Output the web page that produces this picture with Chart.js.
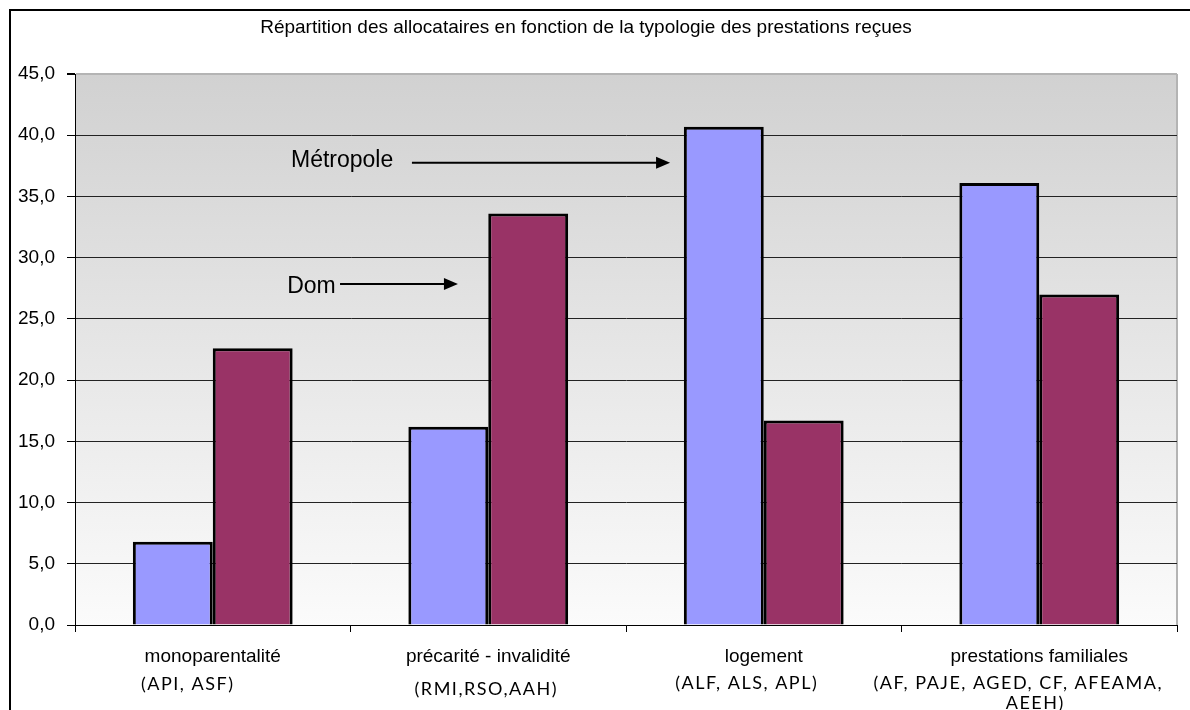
<!DOCTYPE html>
<html>
<head>
<meta charset="utf-8">
<script src="https://cdn.jsdelivr.net/npm/chart.js@4/dist/chart.umd.min.js"></script>
<style>
  html, body { margin: 0; padding: 0; background: #fff; overflow: hidden; }
  #wrap { position: relative; width: 1190px; height: 710px; }
  #frame { position: absolute; left: 9px; top: 9px; width: 1200px; height: 720px; border: 2px solid #000; box-sizing: border-box; pointer-events: none; }
</style>
</head>
<body>
<div id="wrap">
  <canvas id="chart" width="1190" height="710"></canvas>
  <div id="frame"></div>
</div>
<script>
const title = 'Répartition des allocataires en fonction de la typologie des prestations reçues';
const categories = ['monoparentalité', 'précarité - invalidité', 'logement', 'prestations familiales'];
const categoryCodes = [
  ['(API, ASF)'],
  ['(RMI,RSO,AAH)'],
  ['(ALF, ALS, APL)'],
  ['(AF, PAJE, AGED, CF, AFEAMA,', 'AEEH)']
];
const metropole = [6.8, 16.2, 40.7, 36.1];
const dom = [22.6, 33.6, 16.7, 27.0];
const yTicks = [0, 5, 10, 15, 20, 25, 30, 35, 40, 45];

// annotations, in data units (category index, value)
const notes = [
  { text: 'Métropole', x: 0.284, y: 37.95, from: 0.723, to: 1.66, ay: 37.76 },
  { text: 'Dom', x: 0.27, y: 27.65, from: 0.462, to: 0.89, ay: 27.85 }
];

// small nudges of the second label line (px)
const codeShift = [-25, -2, -17, -21];
const codeY = [684, 689, 683, 683];

const labelFont = '"Liberation Sans", Arial, sans-serif';

const framePlugin = {
  id: 'frame',
  beforeDraw(chart) {
    const { ctx, chartArea: a } = chart;
    const g = ctx.createLinearGradient(0, a.top, 0, a.bottom);
    g.addColorStop(0, '#d1d1d1');
    g.addColorStop(1, '#fbfbfb');
    ctx.save();
    ctx.fillStyle = g;
    ctx.fillRect(a.left, a.top, a.right - a.left, a.bottom - a.top);
    ctx.strokeStyle = '#b4b4b4';
    ctx.lineWidth = 2;
    ctx.beginPath();
    ctx.moveTo(a.right, a.top);
    ctx.lineTo(a.right, a.bottom);
    ctx.stroke();
    ctx.fillStyle = '#000';
    ctx.font = '19px ' + labelFont;
    ctx.textAlign = 'center';
    ctx.textBaseline = 'middle';
    ctx.fillText(title, 586, 28);
    ctx.restore();
  },
  afterDraw(chart) {
    const { ctx } = chart;
    const xs = chart.scales.x, ys = chart.scales.y;
    ctx.save();
    ctx.fillStyle = '#000';
    ctx.textAlign = 'center';
    ctx.textBaseline = 'middle';
    categories.forEach((c, i) => {
      const cx = xs.getPixelForValue(i);
      ctx.font = '19px ' + labelFont;
      ctx.fillText(c, cx, 657);
      ctx.font = '18px Lato, "Open Sans", sans-serif';
      ctx.letterSpacing = '1.5px';
      categoryCodes[i].forEach((line, k) => {
        const dx = k === 0 ? codeShift[i] : -4;
        ctx.fillText(line, cx + dx, codeY[i] + k * 20);
      });
      ctx.letterSpacing = '0px';
    });

    const toX = v => xs.left + (v + 0.5) * (xs.right - xs.left) / categories.length;
    notes.forEach(n => {
      ctx.font = '23px ' + labelFont;
      ctx.textAlign = 'left';
      ctx.fillText(n.text, toX(n.x), ys.getPixelForValue(n.y));
      const y = ys.getPixelForValue(n.ay);
      const x1 = toX(n.from), x2 = toX(n.to);
      ctx.strokeStyle = '#000';
      ctx.lineWidth = 2;
      ctx.beginPath();
      ctx.moveTo(x1, y);
      ctx.lineTo(x2 - 12, y);
      ctx.stroke();
      ctx.beginPath();
      ctx.moveTo(x2, y);
      ctx.lineTo(x2 - 14, y - 6);
      ctx.lineTo(x2 - 14, y + 6);
      ctx.closePath();
      ctx.fill();
    });
    ctx.restore();
  }
};

new Chart(document.getElementById('chart'), {
  type: 'bar',
  data: {
    labels: categories,
    datasets: [
      { label: 'Métropole', data: metropole, backgroundColor: '#9999FF', borderColor: '#000', borderWidth: 3 },
      { label: 'Dom', data: dom, backgroundColor: '#993366', borderColor: '#000', borderWidth: 3 }
    ]
  },
  options: {
    responsive: false,
    animation: false,
    layout: { padding: { left: 0, top: 74, right: 13, bottom: 0 } },
    plugins: {
      legend: { display: false },
      title: { display: false },
      tooltip: { enabled: false }
    },
    datasets: { bar: { categoryPercentage: 0.58, barPercentage: 1 } },
    scales: {
      x: {
        offset: true,
        afterFit: s => { s.height = 85; },
        grid: { offset: true, drawOnChartArea: false, drawTicks: true, tickLength: 7, color: '#000', lineWidth: 1 },
        border: { display: true, color: '#000', width: 1 },
        ticks: { display: false }
      },
      y: {
        min: 0,
        max: 45,
        afterFit: s => { s.width = 75; },
        afterBuildTicks: s => { s.ticks = yTicks.map(v => ({ value: v })); },
        grid: {
          color: c => (c.tick && c.tick.value === 45 ? '#b4b4b4' : '#222'),
          lineWidth: c => (c.tick && c.tick.value === 45 ? 2 : 1),
          tickColor: '#000',
          tickLength: 8
        },
        border: { display: true, color: '#000', width: 1 },
        ticks: {
          padding: 12,
          color: '#000',
          font: { family: labelFont, size: 19 },
          callback: v => v.toFixed(1).replace('.', ',')
        }
      }
    }
  },
  plugins: [framePlugin]
});
</script>
</body>
</html>
